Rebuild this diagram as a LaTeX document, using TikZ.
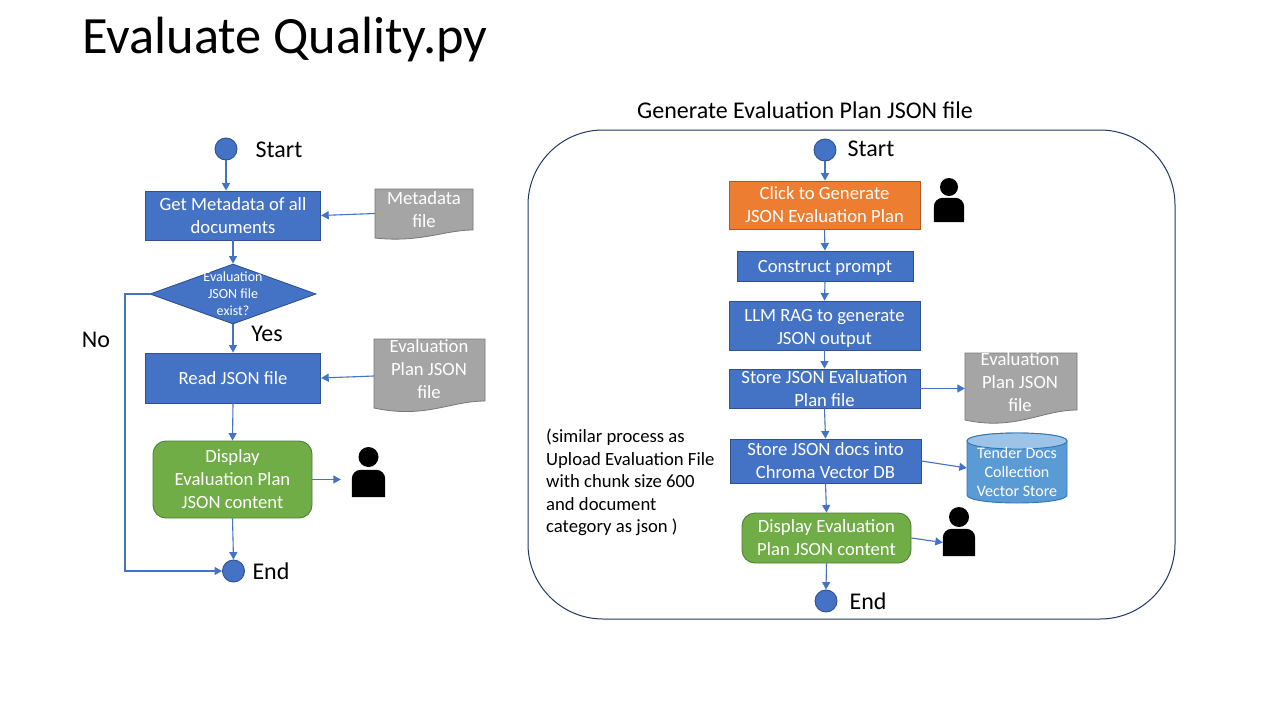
\documentclass[tikz,border=0pt]{standalone}
\usepackage{fontspec}
\setmainfont{Carlito}
\usetikzlibrary{arrows.meta,shapes.geometric,positioning}
\definecolor{blueF}{HTML}{4472C4}
\definecolor{blueL}{HTML}{2F528F}
\definecolor{orangeF}{HTML}{ED7D31}
\definecolor{orangeL}{HTML}{AE5A21}
\definecolor{greenF}{HTML}{70AD47}
\definecolor{greenL}{HTML}{507E32}
\definecolor{greyF}{HTML}{A5A5A5}
\definecolor{greyL}{HTML}{787878}
\definecolor{cylF}{HTML}{5B9BD5}
\definecolor{cylT}{HTML}{9DC3E6}
\definecolor{cylL}{HTML}{2E75B6}
\definecolor{panelL}{HTML}{203864}
\tikzset{
  x=1pt,y=-1pt,
  bodyfont/.style={font=\fontsize{18.67}{23}\selectfont},
  procbox/.style={rectangle,draw=blueL,fill=blueF,line width=0.9pt,inner sep=0pt,text=white,align=center,bodyfont},
  clickbox/.style={procbox,draw=orangeL,fill=orangeF},
  showbox/.style={procbox,draw=greenL,fill=greenF,rounded corners=13pt},
  termdot/.style={circle,draw=blueL,fill=blueF,line width=0.9pt,inner sep=0pt,minimum size=22pt},
  termtext/.style={inner sep=0pt,text=black,font=\fontsize{24}{28}\selectfont},
  flow/.style={draw=blueF,line width=1.1pt,-{Triangle[width=8pt,length=7.5pt]}},
  docpath/.style={draw=greyL,fill=greyF,line width=0.8pt},
  docarea/.style={rectangle,inner sep=0pt},
  doctext/.style={inner sep=0pt,text=white,align=center,bodyfont},
  figbody/.style={rectangle,inner sep=0pt},
  fighead/.style={circle,fill=black,inner sep=0pt},
}
\newcommand{\personfig}[7]{%
  \node[figbody,minimum width=#4pt,minimum height=#5pt] (#1) at (#2,#3) {};
  \fill[black] (#1.south west) [rounded corners=9pt] -- (#1.north west) -- (#1.north east) [sharp corners] -- (#1.south east) -- cycle;
  \node[fighead,minimum size=#6pt] (#1head) at (#2,#7) {};
}
\begin{document}
\begin{tikzpicture}
\useasboundingbox (0,0) rectangle (1280,720);
\fill[white] (0,0) rectangle (1280,720);
\node[inner sep=0pt,anchor=west,font=\fontsize{52.4}{60}\selectfont] (title) at (82,40) {Evaluate Quality.py};

% left flow
\node[termdot] (lstart) at (226,149) {};
\node[termtext] (lstartt) at (279,150) {Start};
\node[procbox,minimum width=175.5pt,minimum height=49pt] (meta) at (233,215.5) {Get Metadata of all\\documents};
\node[diamond,aspect=2.77,draw=blueL,fill=blueF,line width=0.9pt,inner sep=0pt,minimum width=166pt,minimum height=60pt] (exist) at (233,294) {};
\node[doctext,font=\fontsize{14}{16.7}\selectfont] (existt) at (233,293.5) {Evaluation\\JSON file\\exist?};
\node[termtext] (yes) at (267,334) {Yes};
\node[termtext] (no) at (96,340) {No};
\node[procbox,minimum width=175.5pt,minimum height=50pt] (read) at (233,378) {Read JSON file};
\node[showbox,minimum width=159pt,minimum height=77pt] (lshow) at (232.5,479.5) {Display\\Evaluation Plan\\JSON content};
\node[termdot] (lend) at (233.5,571) {};
\node[termtext] (lendt) at (271,571.5) {End};
\personfig{luser}{368.5}{483.5}{33}{27}{20}{457}

\draw[docpath] (375,189) -- (473,189) -- (473,230) .. controls (445,230) and (420,243) .. (375,238) -- cycle;
\node[docarea,minimum width=98pt,minimum height=49pt] (mdoc) at (424,213.5) {};
\node[doctext] (mdoct) at (424,209.5) {Metadata\\file};
\draw[docpath] (374,339) -- (485,339) -- (485,401) .. controls (450,401) and (425,419) .. (374,408) -- cycle;
\node[docarea,minimum width=111pt,minimum height=74pt] (edoc) at (429.5,376) {};
\node[doctext] (edoct) at (429,369) {Evaluation\\Plan JSON\\file};

\coordinate (nobend) at (125,294);
\draw[flow] (lstart.south) -- (lstart.south |- meta.north);
\draw[flow] (mdoc.west) -- (meta.east);
\draw[flow] (meta.south) -- (exist.north);
\draw[flow] (exist.south) -- (read.north);
\draw[flow] (edoc.west) -- (read.east);
\draw[flow] (read.south) -- (lshow.north);
\draw[flow,shorten >=11pt] (lshow.east) -- (lshow.east -| luser.west);
\draw[flow] (lshow.south) -- (lend.north);
\draw[flow] (exist.west) -- (nobend) |- (lend.west);

% right panel
\node[inner sep=0pt,text=black,font=\fontsize{24}{28}\selectfont] (ptitle) at (805,110) {Generate Evaluation Plan JSON file};
\node[rectangle,draw=panelL,line width=1pt,rounded corners=75pt,minimum width=647pt,minimum height=489pt,inner sep=0pt] (panel) at (851.5,374.5) {};
\node[termdot,minimum size=22pt] (rstart) at (825,150) {};
\node[termtext] (rstartt) at (871,149) {Start};
\node[clickbox,minimum width=191pt,minimum height=48pt] (click) at (824.5,205) {Click to Generate\\JSON Evaluation Plan};
\personfig{ruser}{949}{210}{30}{24}{18}{187}
\node[procbox,minimum width=176pt,minimum height=30pt] (prompt) at (825,266) {\rule{0pt}{17pt}Construct prompt};
\node[procbox,minimum width=191pt,minimum height=49pt] (llm) at (824.5,325.5) {\rule{0pt}{18pt}LLM RAG to generate\\JSON output};
\node[procbox,minimum width=191pt,minimum height=39pt] (store) at (824.5,388.5) {Store JSON Evaluation\\Plan file};
\node[procbox,minimum width=191pt,minimum height=44pt] (docs) at (825.5,461) {Store JSON docs into\\Chroma Vector DB};
\node[showbox,minimum width=169pt,minimum height=50pt] (rshow) at (826.5,538) {Display Evaluation\\Plan JSON content};
\node[termdot] (rend) at (826,601) {};
\node[termtext] (rendt) at (868,601.5) {End};
\personfig{tuser}{959}{542.5}{32}{27}{20}{517}

\draw[docpath] (965,353) -- (1077,353) -- (1077,410) .. controls (1042,410) and (1015,431) .. (965,420) -- cycle;
\node[docarea,minimum width=112pt,minimum height=71pt] (gdoc) at (1021,388.5) {};
\node[doctext] (gdoct) at (1020,382) {Evaluation\\Plan JSON\\file};

\draw[draw=cylL,fill=cylF,line width=0.9pt] (967,441) .. controls (967,436) and (990,433) .. (1017,433) .. controls (1044,433) and (1067,436) .. (1067,441) -- (1067,495) .. controls (1067,500) and (1044,503) .. (1017,503) .. controls (990,503) and (967,500) .. (967,495) -- cycle;
\draw[draw=cylL,fill=cylT,line width=0.9pt] (967,441) .. controls (967,436) and (990,433) .. (1017,433) .. controls (1044,433) and (1067,436) .. (1067,441) .. controls (1067,446) and (1044,449) .. (1017,449) .. controls (990,449) and (967,446) .. (967,441) -- cycle;
\node[docarea,minimum width=100pt,minimum height=70pt] (cyl) at (1017,468) {};
\node[doctext,font=\fontsize{16}{19}\selectfont] (cylt) at (1017,472) {Tender Docs\\Collection\\Vector Store};

\node[inner sep=0pt,anchor=north west,align=left,text=black,font=\fontsize{18.67}{22.5}\selectfont] (note) at (546,429) {(similar process as\\Upload Evaluation File\\with chunk size 600\\and document\\category as json )};

\draw[flow] (rstart.south) -- (rstart.south |- click.north);
\draw[flow] (click.south) -- (prompt.north);
\draw[flow] (prompt.south) -- (llm.north);
\draw[flow] (llm.south) -- (store.north);
\draw[flow] (store.south) -- (docs.north);
\draw[flow] (store.east) -- (gdoc.west);
\draw[flow] (docs.east) -- (cyl.west);
\draw[flow] (docs.south) -- (rshow.north);
\draw[flow] (rshow.east) -- (tuser.west);
\draw[flow] (rshow.south) -- (rend.north);
\end{tikzpicture}
\end{document}
